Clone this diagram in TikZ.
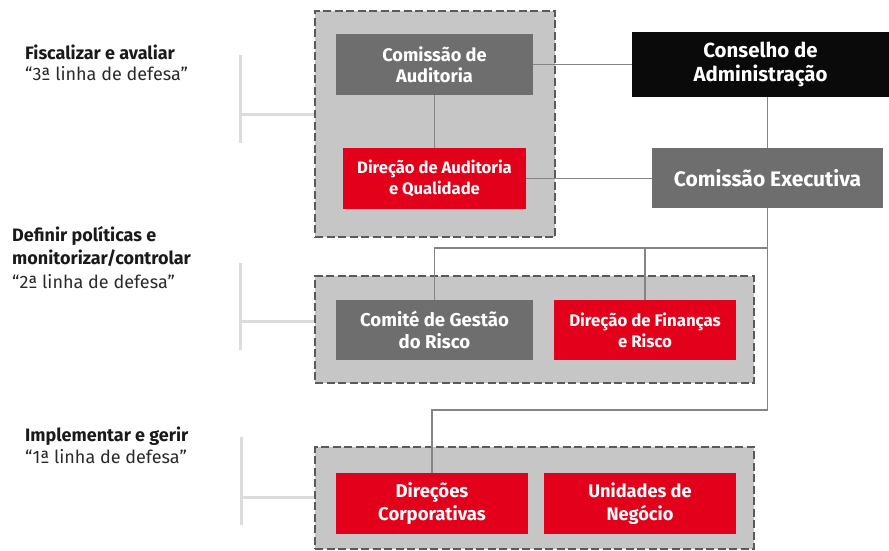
\documentclass[tikz,border=0pt]{standalone}
\usepackage{fontspec}
\setmainfont{Fira Sans}
\usetikzlibrary{backgrounds}
\definecolor{redbox}{HTML}{E2001A}
\definecolor{darkbox}{HTML}{6E6E6E}
\definecolor{blackbox}{HTML}{0A0A0A}
\definecolor{groupfill}{HTML}{C6C6C6}
\definecolor{groupline}{HTML}{5A5A5A}
\definecolor{conn}{HTML}{858585}
\definecolor{bracket}{HTML}{DCDCDC}
\definecolor{labeltext}{HTML}{1A1A1A}
\definecolor{quotetext}{HTML}{2A2A2A}
\begin{document}
\begin{tikzpicture}[x=1pt,y=-1pt,
  box/.style={rectangle, inner sep=0pt, text=white, align=center, font=\bfseries},
  groupbox/.style={rectangle, inner sep=0pt, fill=groupfill, draw=groupline, line width=1.6pt, dash pattern=on 8pt off 3.5pt},
  connector/.style={draw=conn, line width=1.5pt},
  bracketline/.style={draw=bracket, line width=3pt},
  lefttext/.style={anchor=base west, align=left, inner sep=0pt, text=labeltext}
]
\useasboundingbox (0,0) rectangle (889,551);

% boxes
\node[box, fill=darkbox, minimum width=197pt, minimum height=61pt, font=\bfseries\fontsize{18.2}{21}\selectfont] (ca) at (434.5,64.5) {Comissão de\\Auditoria};
\node[box, fill=redbox, minimum width=183pt, minimum height=61pt, font=\bfseries\fontsize{16.6}{21}\selectfont] (daq) at (434.5,178.5) {Direção de Auditoria\\e Qualidade};
\node[box, fill=blackbox, minimum width=257pt, minimum height=65pt, font=\bfseries\fontsize{20.4}{24}\selectfont] (cda) at (760.5,64.5) {Conselho de\\Administração};
\node[box, fill=darkbox, minimum width=231pt, minimum height=60pt, font=\bfseries\fontsize{21}{24}\selectfont] (ce) at (767.5,178) {Comissão Executiva};
\node[box, fill=darkbox, minimum width=197pt, minimum height=60pt, font=\bfseries\fontsize{18.6}{22}\selectfont] (cgr) at (434.5,330) {Comité de Gestão\\do Risco};
\node[box, fill=redbox, minimum width=182pt, minimum height=60pt, font=\bfseries\fontsize{16.8}{21}\selectfont] (dfr) at (645,330) {Direção de Finanças\\e Risco};
\node[box, fill=redbox, minimum width=192pt, minimum height=61pt, font=\bfseries\fontsize{18.5}{23}\selectfont] (dc) at (432,503.5) {Direções\\Corporativas};
\node[box, fill=redbox, minimum width=192pt, minimum height=61pt, font=\bfseries\fontsize{18.2}{23}\selectfont] (un) at (640,503.5) {Unidades de\\Negócio};

\coordinate (h1) at (767.5,248);
\coordinate (h2) at (767.5,410);

\begin{pgfonlayer}{background}
  % groups
  \node[groupbox, minimum width=240pt, minimum height=226pt] (g1) at (435,124) {};
  \node[groupbox, minimum width=439pt, minimum height=107pt] (g2) at (534.5,329.5) {};
  \node[groupbox, minimum width=439pt, minimum height=102pt] (g3) at (534.5,498) {};
  % connectors
  \draw[connector] (ca.east) -- (cda.west);
  \draw[connector] (ca.south) -- (daq.north);
  \draw[connector] (ce.north) -- (ce.north |- cda.south);
  \draw[connector] (daq.east) -- (daq.east -| ce.west);
  \draw[connector] (ce.south) -- (h2) -- (h2 -| dc.north) -- (dc.north);
  \draw[connector] (h1) -- (h1 -| cgr.north) -- (cgr.north);
  \draw[connector] (dfr.north) -- (dfr.north |- h1);
\end{pgfonlayer}

% brackets
\coordinate (b1t) at (240,55);  \coordinate (b1b) at (240,143); \coordinate (b1m) at (240,114);
\coordinate (b2t) at (240,263); \coordinate (b2b) at (240,350); \coordinate (b2m) at (240,321);
\coordinate (b3t) at (241,437); \coordinate (b3b) at (241,525); \coordinate (b3m) at (241,497);
\draw[bracketline] (b1t) -- (b1b);
\draw[bracketline] (b1m) -- (b1m -| g1.west);
\draw[bracketline] (b2t) -- (b2b);
\draw[bracketline] (b2m) -- (b2m -| g2.west);
\draw[bracketline] (b3t) -- (b3b);
\draw[bracketline] (b3m) -- (b3m -| g3.west);

% left labels
\node[lefttext, font=\fontsize{18}{21}\selectfont] (l1) at (25,81) {\textbf{Fiscalizar e avaliar}\\{\color{quotetext}“3ª linha de defesa”}};
\node[lefttext, font=\fontsize{18}{23.5}\selectfont] (l2) at (12,288) {\textbf{Definir políticas e}\\\textbf{monitorizar/controlar}\\{\color{quotetext}“2ª linha de defesa”}};
\node[lefttext, font=\fontsize{18}{22}\selectfont] (l3) at (25,463) {\textbf{Implementar e gerir}\\{\color{quotetext}“1ª linha de defesa”}};
\end{tikzpicture}
\end{document}
